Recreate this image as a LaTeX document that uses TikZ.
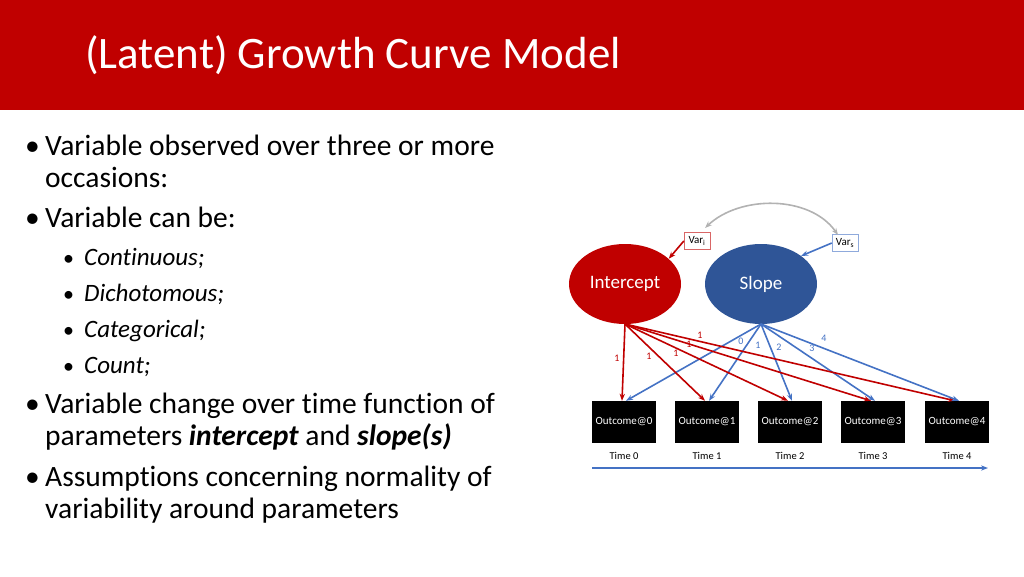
\documentclass[tikz,border=0pt]{standalone}
\usepackage{fontspec}
\setmainfont{Carlito}[Ligatures={NoCommon}]
\usetikzlibrary{arrows.meta,shapes.geometric}
\definecolor{hdred}{HTML}{C00000}
\definecolor{intred}{HTML}{C00000}
\definecolor{slpblue}{HTML}{2F5597}
\definecolor{arrblue}{HTML}{4472C4}
\begin{document}
\begin{tikzpicture}[x=1pt,y=-1pt]
  \tikzset{latent/.style={ellipse,minimum width=112pt,minimum height=80pt,inner sep=0pt,text=white,font=\fontsize{19}{19}\selectfont},
    outbox/.style={fill=black,minimum width=64pt,minimum height=42pt,inner sep=0pt,text=white,font=\fontsize{11}{11}\selectfont},
    varbox/.style={draw,fill=white,minimum width=26pt,minimum height=17pt,inner sep=1pt,font=\fontsize{11}{11}\selectfont},
    redarr/.style={intred,line width=1.6pt,-{Stealth[length=7pt]}},
    bluearr/.style={arrblue,line width=1.6pt,-{Stealth[length=7pt]}},
    wlab/.style={font=\fontsize{10}{10}\selectfont,inner sep=0pt},
    bul/.style={anchor=base west,inner sep=0pt,font=\fontsize{29.5}{29.5}\selectfont},
    sub/.style={anchor=base west,inner sep=0pt,font=\fontsize{25}{25}\selectfont\itshape}}
  \useasboundingbox (0,0) rectangle (1024,576);
  \fill[hdred] (0,0) rectangle (1024,110);
  \node[anchor=west,inner sep=0pt,text=white,font=\fontsize{45}{45}\selectfont] (title) at (85,55) {(Latent) Growth Curve Model};
  % bullets
  \node[bul] (b1) at (45,155) {Variable observed over three or more};
  \node[bul] (b1b) at (45,187) {occasions:};
  \node[bul] (b2) at (45,227) {Variable can be:};
  \node[sub] (c1) at (84,265) {Continuous;};
  \node[sub] (c2) at (84,301) {Dichotomous;};
  \node[sub] (c3) at (84,337) {Categorical;};
  \node[sub] (c4) at (84,373) {Count;};
  \node[bul] (b3) at (45,413) {Variable change over time function of};
  \node[bul] (b3b) at (45,445) {parameters \textbf{\textit{intercept}} and \textbf{\textit{slope(s)}}};
  \node[bul] (b4) at (45,486) {Assumptions concerning normality of};
  \node[bul] (b4b) at (45,518) {variability around parameters};
  \foreach \y in {155,227,413,486} \node[bul] at (25,\y) {•};
  \foreach \y in {265,301,337,373} \node[sub,font=\fontsize{22}{22}\selectfont] at (63,\y) {•};
  % diagram
  \node[latent,fill=intred] (int) at (625,284) {Intercept};
  \node[latent,fill=slpblue] (slp) at (761,284) {Slope};
  \node[varbox,draw=intred!60] (vari) at (697,241) {Var\textsubscript{i}};
  \node[varbox,draw=arrblue!60] (vars) at (845,243) {Var\textsubscript{s}};
  \draw[gray!60,line width=1.6pt,{Stealth[length=7pt]}-{Stealth[length=7pt]}] (705,228) .. controls (740,195) and (810,195) .. (838,235);
  \draw[redarr] (vari.west) -- (int.30);
  \draw[bluearr] (vars.west) -- (slp.35);
  \coordinate (ib) at (625,324);
  \coordinate (sb) at (761,324);
  \foreach \i/\x in {0/624,1/707,2/790,3/873,4/957} {
    \node[outbox] (o\i) at (\x,422) {Outcome@\i};
    \node[font=\fontsize{10.5}{10.5}\selectfont] (t\i) at (\x,456) {Time \i};
    \draw[redarr] (ib) -- ([xshift=-2pt]o\i.north);
    \draw[bluearr] (sb) -- ([xshift=2pt]o\i.north);
  }
  \coordinate (ta) at (592,468);
  \coordinate (tb) at (988,468);
  \draw[bluearr] (ta) -- (tb);
  % weights
  \foreach \x/\y in {617/358,649/356,676/353,689/344,700/335} \node[wlab,text=intred] at (\x,\y) {1};
  \foreach \x/\y/\w in {741/341/0,758/345/1,779/347/2,812/348/3,824/338/4} \node[wlab,text=arrblue] at (\x,\y) {\w};
\end{tikzpicture}
\end{document}
